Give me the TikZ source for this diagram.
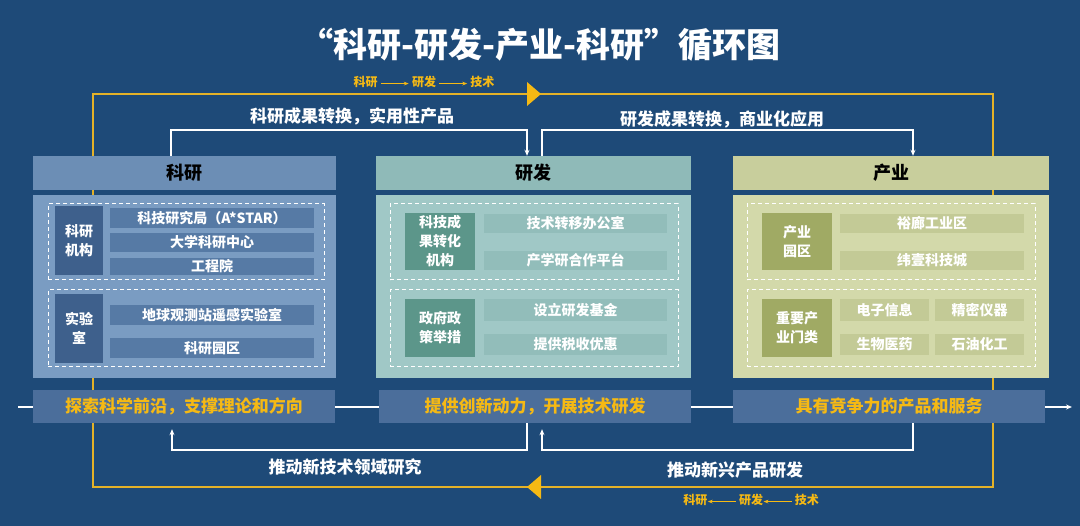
\documentclass[tikz,border=0pt]{standalone}
\usepackage{fontspec}
\setmainfont{Noto Sans CJK SC}
\usetikzlibrary{arrows.meta}
\definecolor{bg}{RGB}{30,74,120}
\definecolor{cah}{RGB}{108,142,181}\definecolor{cab}{RGB}{122,156,194}\definecolor{cai}{RGB}{86,122,165}\definecolor{cal}{RGB}{62,96,140}
\definecolor{cbh}{RGB}{143,186,184}\definecolor{cbb}{RGB}{160,200,198}\definecolor{cbi}{RGB}{146,189,186}\definecolor{cbl}{RGB}{92,150,138}
\definecolor{cch}{RGB}{200,206,156}\definecolor{ccb}{RGB}{211,217,170}\definecolor{cci}{RGB}{195,202,150}\definecolor{ccl}{RGB}{160,170,100}
\definecolor{gold}{RGB}{245,185,20}\definecolor{yl}{RGB}{228,178,40}\definecolor{rowbox}{RGB}{75,110,155}
\newcommand\rb[7]{\node[#6,minimum width={(#4-#2)*1pt},minimum height={(#5-#3)*1pt}] (#1) at ({(#2+#4)/2},{(#3+#5)/2}) {#7};}
\tikzset{
 base/.style={inner sep=0pt,draw=none,font=\bfseries\fontsize{14}{16}\selectfont,text=white,align=center},
 head/.style={base,font=\bfseries\fontsize{18}{20}\selectfont,text=black},
 dbox/.style={base,draw=white,dashed,line width=1pt,dash pattern=on 4pt off 3pt},
 lab/.style={base,font=\bfseries\fontsize{14}{19}\selectfont},
 row/.style={base,fill=rowbox,font=\bfseries\fontsize{17}{19}\selectfont,text=gold},
 wl/.style={draw=white,line width=1.2pt},
 wa/.style={wl,-{Stealth[length=6pt,width=5pt]}},
 lbl/.style={text=white,font=\bfseries\fontsize{17}{19}\selectfont,inner sep=0pt},
 gl/.style={text=gold,font=\bfseries\fontsize{12}{14}\selectfont,inner sep=0pt}
}
\begin{document}
\begin{tikzpicture}[x=1pt,y=-1pt]
\fill[bg] (0,0) rectangle (1080,526);
\useasboundingbox (0,0) rectangle (1080,526);
\node[text=white,font=\bfseries\fontsize{34}{36}\selectfont,inner sep=0pt] (title) at (540,45) {“科研-研发-产业-科研”循环图};
% yellow loop
\coordinate (y1) at (93,156);\coordinate (y2) at (93,94);\coordinate (y3) at (993,94);\coordinate (y4) at (993,487);\coordinate (y5) at (93,487);
\draw[yl,line width=1.6pt] (93,487) -- (y2) -- (y3) -- (y4) -- (y5) -- cycle;
\fill[gold] (527,82) -- (541,94) -- (527,106) -- cycle;
\fill[gold] (541,475) -- (527,487) -- (541,499) -- cycle;
\node[gl] (tg) at (424,82) {科研 \tikz[baseline=-3pt]\draw[gold,line width=1pt,-{Stealth[length=5pt]}] (0,0)--(28,0); 研发 \tikz[baseline=-3pt]\draw[gold,line width=1pt,-{Stealth[length=5pt]}] (0,0)--(28,0); 技术};
\node[gl] (bg2) at (751,500) {科研\tikz[baseline=-3pt]\draw[gold,line width=1pt,{Stealth[length=5pt]}-] (0,0)--(28,0); 研发\tikz[baseline=-3pt]\draw[gold,line width=1pt,{Stealth[length=5pt]}-] (0,0)--(28,0); 技术};
% horizontal flow line
\coordinate (hs) at (18,407);\coordinate (he) at (1072,407);
\draw[wa] (hs) -- (he);
% columns
\rb{h1}{33}{156}{336}{190}{head,fill=cah}{科研}
\rb{b1}{33}{195}{336}{378}{base,fill=cab}{}
\rb{h2}{376}{156}{691}{190}{head,fill=cbh}{研发}
\rb{b2}{376}{195}{691}{378}{base,fill=cbb}{}
\rb{h3}{733}{156}{1049}{190}{head,fill=cch}{产业}
\rb{b3}{733}{195}{1049}{378}{base,fill=ccb}{}
% col1
\rb{d11}{48}{204}{324}{280}{dbox}{}
\rb{d12}{48}{290}{324}{367}{dbox}{}
\rb{l11}{55}{206}{103}{275}{lab,fill=cal}{科研\\机构}
\rb{i111}{110}{208}{314}{228}{base,fill=cai}{科技研究局（A*STAR）}
\rb{i112}{110}{233}{314}{252}{base,fill=cai}{大学科研中心}
\rb{i113}{110}{258}{314}{275}{base,fill=cai}{工程院}
\rb{l12}{55}{294}{103}{363}{lab,fill=cal}{实验\\室}
\rb{i121}{110}{305}{314}{325}{base,fill=cai}{地球观测站遥感实验室}
\rb{i122}{110}{338}{314}{358}{base,fill=cai}{科研园区}
% col2
\rb{d21}{390}{204}{678}{280}{dbox}{}
\rb{d22}{390}{290}{678}{367}{dbox}{}
\rb{l21}{405}{213}{475}{270}{lab,fill=cbl}{科技成\\果转化\\机构}
\rb{i211}{484}{214}{667}{233}{base,fill=cbi}{技术转移办公室}
\rb{i212}{484}{251}{667}{270}{base,fill=cbi}{产学研合作平台}
\rb{l22}{405}{299}{475}{357}{lab,fill=cbl}{政府政\\策举措}
\rb{i221}{484}{299}{667}{321}{base,fill=cbi}{设立研发基金}
\rb{i222}{484}{334}{667}{355}{base,fill=cbi}{提供税收优惠}
% col3
\rb{d31}{747}{204}{1035}{280}{dbox}{}
\rb{d32}{747}{290}{1035}{367}{dbox}{}
\rb{l31}{762}{213}{832}{270}{lab,fill=ccl}{产业\\园区}
\rb{i311}{840}{214}{1024}{233}{base,fill=cci}{裕廊工业区}
\rb{i312}{840}{251}{1024}{270}{base,fill=cci}{纬壹科技城}
\rb{l32}{762}{299}{832}{357}{lab,fill=ccl}{重要产\\业门类}
\rb{i321}{840}{299}{929}{321}{base,fill=cci}{电子信息}
\rb{i322}{935}{299}{1024}{321}{base,fill=cci}{精密仪器}
\rb{i323}{840}{334}{929}{355}{base,fill=cci}{生物医药}
\rb{i324}{935}{334}{1024}{355}{base,fill=cci}{石油化工}
% row boxes
\rb{r1}{33}{390}{335}{423}{row}{探索科学前沿，支撑理论和方向}
\rb{r2}{379}{390}{691}{423}{row}{提供创新动力，开展技术研发}
\rb{r3}{733}{390}{1045}{423}{row}{具有竞争力的产品和服务}
% top white connectors
\draw[wa] (h1.north -| 171,0) -- (171,130) -- (527,130) -- (h2.north -| 527,0);
\draw[wa] (h2.north -| 542,0) -- (542,130) -- (913,130) -- (h3.north -| 913,0);
\node[lbl] (t1) at (352,116) {科研成果转换，实用性产品};
\node[lbl] (t2) at (722,119) {研发成果转换，商业化应用};
% bottom white connectors
\draw[wa] (r2.south -| 527,0) -- (527,450) -- (172,450) -- ([yshift=-6pt]r1.south -| 172,0);
\draw[wa] (r3.south -| 913,0) -- (913,450) -- (542,450) -- ([yshift=-6pt]r2.south -| 542,0);
\node[lbl] (t3) at (345,467) {推动新技术领域研究};
\node[lbl] (t4) at (735,470) {推动新兴产品研发};
\end{tikzpicture}
\end{document}
